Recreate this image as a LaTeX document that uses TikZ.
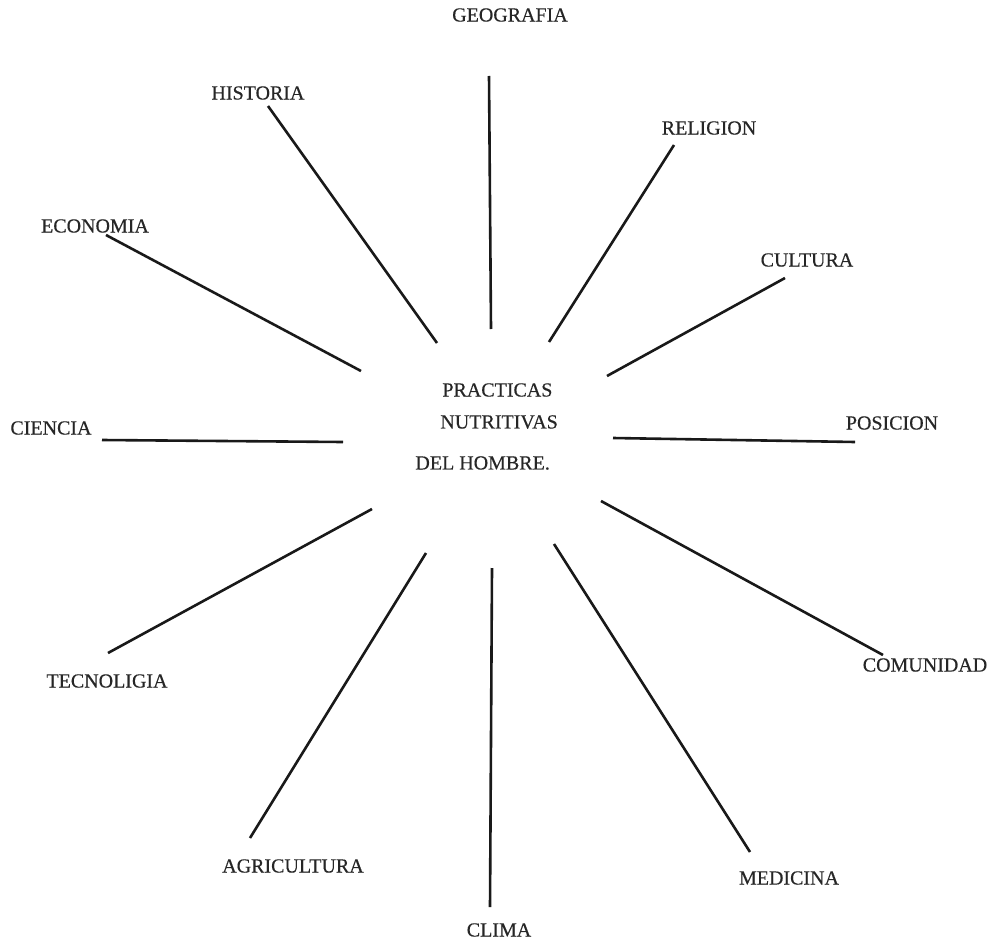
\documentclass[tikz,border=0pt]{standalone}
\usepackage{fontspec}
\setmainfont{Liberation Serif}[FakeBold=0.4]
\begin{document}
\begin{tikzpicture}[x=0.5pt,y=-0.5pt,
  lbl/.style={inner sep=0pt, font=\fontsize{10pt}{12pt}\selectfont, text=black!85},
  ray/.style={line width=1.3pt, black!90}]
\useasboundingbox (0,0) rectangle (994,941);
% labels
\node[lbl] (geo) at (510,15) {GEOGRAFIA};
\node[lbl] (his) at (258,93) {HISTORIA};
\node[lbl] (rel) at (709,128) {RELIGION};
\node[lbl] (eco) at (95,226) {ECONOMIA};
\node[lbl] (cul) at (807,260) {CULTURA};
\node[lbl] (cie) at (51,428) {CIENCIA};
\node[lbl] (pos) at (892,423) {POSICION};
\node[lbl] (tec) at (107,681) {TECNOLIGIA};
\node[lbl] (com) at (925,665) {COMUNIDAD};
\node[lbl] (agr) at (293,866) {AGRICULTURA};
\node[lbl] (med) at (789,878) {MEDICINA};
\node[lbl] (cli) at (499,930) {CLIMA};
% center text
\node[lbl, anchor=west] (c1) at (442,390) {PRACTICAS};
\node[lbl, anchor=west] (c2) at (440,422) {NUTRITIVAS};
\node[lbl, anchor=west] (c3) at (415,463) {DEL HOMBRE.};
% ray ends
\coordinate (geoA) at (489,76);  \coordinate (geoB) at (491,329);
\coordinate (hisA) at (268,106); \coordinate (hisB) at (437,343);
\coordinate (relA) at (674,145); \coordinate (relB) at (549,342);
\coordinate (ecoA) at (106,235); \coordinate (ecoB) at (361,371);
\coordinate (culA) at (785,278); \coordinate (culB) at (607,376);
\coordinate (cieA) at (102,440); \coordinate (cieB) at (343,442);
\coordinate (posA) at (613,438); \coordinate (posB) at (855,442);
\coordinate (tecA) at (108,653); \coordinate (tecB) at (372,509);
\coordinate (comA) at (601,501); \coordinate (comB) at (883,655);
\coordinate (agrA) at (250,838); \coordinate (agrB) at (426,553);
\coordinate (cliA) at (492,568); \coordinate (cliB) at (490,907);
\coordinate (medA) at (554,544); \coordinate (medB) at (750,852);
\foreach \r in {geo,his,rel,eco,cul,cie,pos,tec,com,agr,cli,med}
  \draw[ray] (\r A) -- (\r B);
\end{tikzpicture}
\end{document}
